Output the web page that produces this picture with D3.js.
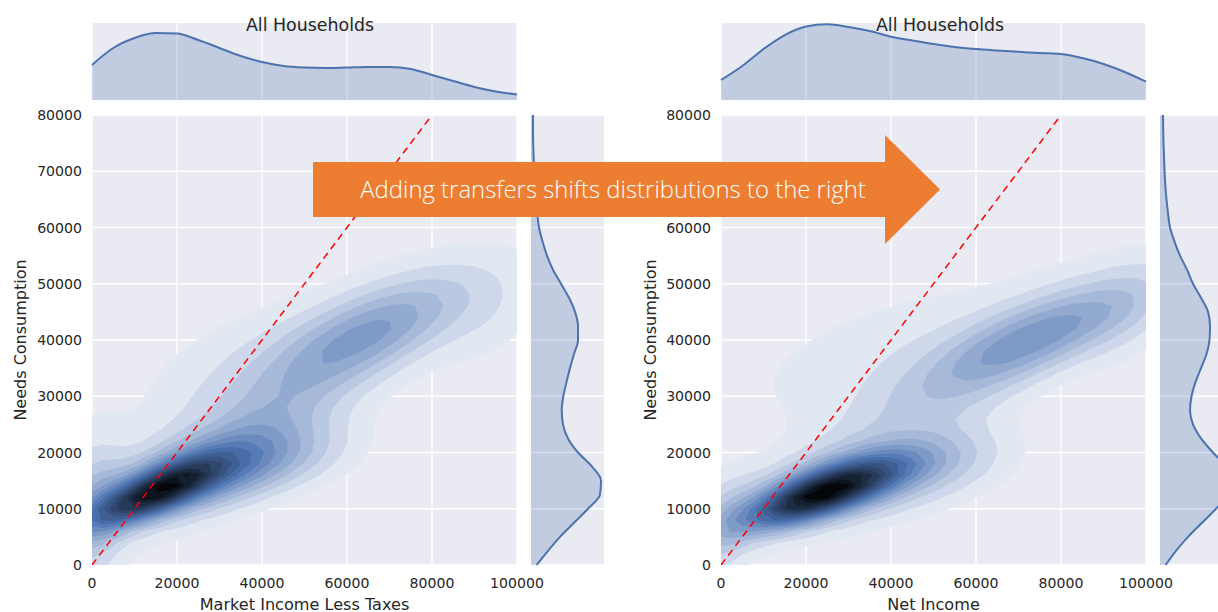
<!DOCTYPE html>
<html><head><meta charset="utf-8">
<script src="https://cdn.jsdelivr.net/npm/d3@7"></script>
<style>body{margin:0;background:#fff;overflow:hidden} svg{display:block}</style>
</head><body>
<svg id="c" width="1218" height="612"></svg>
<script>
// ---------- data ----------
const xTicks = [0, 20000, 40000, 60000, 80000, 100000];
const yTicks = [0, 10000, 20000, 30000, 40000, 50000, 60000, 70000, 80000];
const panelTitles = ["All Households", "All Households"];
const xAxisLabels = ["Market Income Less Taxes", "Net Income"];
const yAxisLabel = "Needs Consumption";
const arrowText = "Adding transfers shifts distributions to the right";

// marginal KDE of income (relative density) sampled at these incomes
const incomeGrid = [0,5000,10000,15000,20000,25000,30000,35000,40000,45000,50000,55000,60000,65000,70000,75000,80000,85000,90000,95000,100000];
const marketIncomeDensity = [0.455,0.675,0.805,0.870,0.864,0.779,0.675,0.571,0.494,0.442,0.422,0.416,0.422,0.429,0.429,0.403,0.325,0.247,0.169,0.110,0.071];
const netIncomeDensity    = [0.260,0.442,0.662,0.844,0.955,0.983,0.948,0.896,0.822,0.773,0.727,0.688,0.662,0.643,0.626,0.610,0.597,0.545,0.468,0.364,0.238];

// marginal KDE of needs consumption (relative density)
const consumptionGrid = [0,2500,5000,7500,10000,12500,15000,17500,20000,22500,25000,27500,30000,32500,35000,37500,40000,42500,45000,47500,50000,52500,55000,57500,60000,62500,65000,67500,70000,72500,75000,77500,80000];
const consumptionDensityLeft  = [0.078,0.233,0.397,0.589,0.781,0.945,0.959,0.836,0.644,0.507,0.438,0.421,0.442,0.486,0.534,0.589,0.644,0.644,0.603,0.521,0.411,0.301,0.219,0.158,0.110,0.086,0.068,0.055,0.044,0.036,0.030,0.027,0.027];
const consumptionDensityRight = [0.077,0.219,0.384,0.575,0.767,0.932,0.986,0.904,0.726,0.562,0.452,0.411,0.432,0.486,0.562,0.637,0.678,0.685,0.658,0.562,0.452,0.370,0.274,0.199,0.137,0.110,0.089,0.073,0.062,0.055,0.048,0.044,0.041];

// joint density, estimated as a sum of gaussian bumps (centre, spread, correlation, height)
const leftMuX   = [14000, 26000,     0, 66000, 42000, 30000, 48000, 95000, 40000];
const leftMuY   = [12500, 16000,  9000, 41500, 28000, 37000, 19000, 44000, 25000];
const leftSdX   = [10000, 16000,  5000, 16000, 30000, 20000, 13000, 10000, 12000];
const leftSdY   = [ 4000,  5000, 10000,  7000, 17000,  9000,  4500,  7000,  6000];
const leftRho   = [ 0.75,  0.55,  0.10,  0.70,  0.85,  0.60,  0.20,  0.40,  0.60];
const leftH     = [ 0.65,  0.38,  0.16,  0.26,  0.15,  0.06,  0.07,  0.07,  0.08];

const rightMuX  = [22000, 30000,     0, 76000, 50000, 33000, 55000, 97000, 40000];
const rightMuY  = [12000, 15000,  6000, 41000, 29000, 38000, 18000, 44000, 11000];
const rightSdX  = [12000, 16000,  5000, 17000, 30000, 25000, 13000,  9000, 16000];
const rightSdY  = [ 4000,  4500,  7000,  6500, 16000, 10000,  4500,  7000,  4500];
const rightRho  = [ 0.75,  0.60,  0.30,  0.75,  0.88,  0.65,  0.30,  0.40,  0.50];
const rightH    = [ 0.60,  0.34,  0.12,  0.26,  0.15,  0.075, 0.08,  0.07,  0.06];

const nLevels = 18;

// ---------- drawing ----------
const svg = d3.select("#c");
const BG = "#EAEAF2", TXT = "#262626", BLUE = "#4C72B0";
const FONT = "DejaVu Sans";

const panels = [
  {x0: 92, x1: 517, rm0: 531, rm1: 604, titleX: 310, ylabX: 20,
   mix: {mx: leftMuX, my: leftMuY, sx: leftSdX, sy: leftSdY, r: leftRho, h: leftH},
   topD: marketIncomeDensity, rightD: consumptionDensityLeft},
  {x0: 721, x1: 1146, rm0: 1160, rm1: 1233, titleX: 940, ylabX: 650,
   mix: {mx: rightMuX, my: rightMuY, sx: rightSdX, sy: rightSdY, r: rightRho, h: rightH},
   topD: netIncomeDensity, rightD: consumptionDensityRight}
];
const Y0 = 115, Y1 = 565, T0 = 23, T1 = 100;

function mixture(p) {
  return (x, y) => {
    let s = 0;
    for (let i = 0; i < p.mx.length; i++) {
      const dx = (x - p.mx[i]) / p.sx[i], dy = (y - p.my[i]) / p.sy[i], r = p.r[i];
      s += p.h[i] * Math.exp(-0.5 * (dx * dx - 2 * r * dx * dy + dy * dy) / (1 - r * r));
    }
    return s;
  };
}

const defs = svg.append("defs");

panels.forEach((P, pi) => {
  const x = d3.scaleLinear().domain([0, 100000]).range([P.x0, P.x1]);
  const y = d3.scaleLinear().domain([0, 80000]).range([Y1, Y0]);
  const g = svg.append("g");

  // ---- main axes ----
  g.append("rect").attr("x", P.x0).attr("y", Y0).attr("width", P.x1 - P.x0).attr("height", Y1 - Y0).attr("fill", BG);
  g.selectAll(".vg").data(xTicks).join("line").attr("x1", d => x(d)).attr("x2", d => x(d)).attr("y1", Y0).attr("y2", Y1)
    .attr("stroke", "#fff").attr("stroke-width", 1.3);
  g.selectAll(".hg").data(yTicks).join("line").attr("y1", d => y(d)).attr("y2", d => y(d)).attr("x1", P.x0).attr("x2", P.x1)
    .attr("stroke", "#fff").attr("stroke-width", 1.3);

  const cid = "clip" + pi;
  defs.append("clipPath").attr("id", cid).append("rect").attr("x", P.x0).attr("y", Y0).attr("width", P.x1 - P.x0).attr("height", Y1 - Y0);

  // density grid
  const gx0 = -10000, gy0 = -10000, stepX = 2500, stepY = 2000;
  const nx = Math.round(120000 / stepX) + 1, ny = Math.round(100000 / stepY) + 1;
  const f = mixture(P.mix);
  const vals = new Array(nx * ny);
  for (let j = 0; j < ny; j++) for (let i = 0; i < nx; i++) vals[j * nx + i] = f(gx0 + i * stepX, gy0 + j * stepY);
  const M = d3.max(vals);
  const thresholds = d3.range(1, nLevels).map(k => k * M / nLevels);
  const contours = d3.contours().size([nx, ny]).thresholds(thresholds)(vals);
  const proj = d3.geoTransform({
    point: function (cx, cy) { this.stream.point(x(gx0 + (cx - 0.5) * stepX), y(gy0 + (cy - 0.5) * stepY)); }
  });
  const path = d3.geoPath(proj);
  g.append("g").attr("clip-path", `url(#${cid})`).selectAll("path").data(contours).join("path")
    .attr("d", path)
    .attr("fill", (d, k) => d3.hsl(217.2, 0.397, 1 - (k + 1.5) / nLevels).formatHex())
    .attr("stroke", "none");

  // red y = x line
  g.append("g").attr("clip-path", `url(#${cid})`).append("line")
    .attr("x1", x(0)).attr("y1", y(0)).attr("x2", x(80000)).attr("y2", y(80000))
    .attr("stroke", "#ff0000").attr("stroke-width", 1.5).attr("stroke-dasharray", "7,5");

  // ticks
  g.selectAll(".xt").data(xTicks).join("text").attr("x", d => x(d)).attr("y", 588).attr("text-anchor", "middle")
    .attr("font-family", FONT).attr("font-size", 14.1).attr("fill", TXT).text(d => d);
  g.selectAll(".yt").data(yTicks).join("text").attr("x", P.x0 - 10).attr("y", d => y(d) + 5.2).attr("text-anchor", "end")
    .attr("font-family", FONT).attr("font-size", 14.1).attr("fill", TXT).text(d => d);
  g.append("text").attr("x", (P.x0 + P.x1) / 2).attr("y", 609.5).attr("text-anchor", "middle")
    .attr("font-family", FONT).attr("font-size", 16.1).attr("fill", TXT).text(xAxisLabels[pi]);
  g.append("text").attr("transform", `translate(${P.ylabX + 5.5},${(Y0 + Y1) / 2}) rotate(-90)`).attr("text-anchor", "middle")
    .attr("font-family", FONT).attr("font-size", 16).attr("fill", TXT).text(yAxisLabel);

  // ---- top marginal ----
  const ty = d3.scaleLinear().domain([0, 1]).range([T1, T0]);
  g.append("rect").attr("x", P.x0).attr("y", T0).attr("width", P.x1 - P.x0).attr("height", T1 - T0).attr("fill", BG);
  g.selectAll(".tg").data(xTicks).join("line").attr("x1", d => x(d)).attr("x2", d => x(d)).attr("y1", T0).attr("y2", T1)
    .attr("stroke", "#fff").attr("stroke-width", 1.3);
  const topPts = incomeGrid.map((v, i) => [v, P.topD[i]]);
  g.append("path").datum(topPts).attr("fill", BLUE).attr("fill-opacity", 0.25)
    .attr("d", d3.area().x(d => x(d[0])).y0(ty(0)).y1(d => ty(d[1])).curve(d3.curveMonotoneX));
  g.append("path").datum(topPts).attr("fill", "none").attr("stroke", BLUE).attr("stroke-width", 2)
    .attr("d", d3.line().x(d => x(d[0])).y(d => ty(d[1])).curve(d3.curveMonotoneX));

  // ---- right marginal ----
  const rx = d3.scaleLinear().domain([0, 1]).range([P.rm0, P.rm1]);
  g.append("rect").attr("x", P.rm0).attr("y", Y0).attr("width", P.rm1 - P.rm0).attr("height", Y1 - Y0).attr("fill", BG);
  g.selectAll(".rg").data(yTicks).join("line").attr("y1", d => y(d)).attr("y2", d => y(d)).attr("x1", P.rm0).attr("x2", P.rm1)
    .attr("stroke", "#fff").attr("stroke-width", 1.3);
  const rPts = consumptionGrid.map((v, i) => [v, P.rightD[i]]);
  g.append("path").datum(rPts).attr("fill", BLUE).attr("fill-opacity", 0.25)
    .attr("d", d3.area().y(d => y(d[0])).x0(rx(0)).x1(d => rx(d[1])).curve(d3.curveMonotoneY));
  g.append("path").datum(rPts).attr("fill", "none").attr("stroke", BLUE).attr("stroke-width", 2)
    .attr("d", d3.line().y(d => y(d[0])).x(d => rx(d[1])).curve(d3.curveMonotoneY));

  // title
  g.append("text").attr("x", P.titleX).attr("y", 31).attr("text-anchor", "middle")
    .attr("font-family", FONT).attr("font-size", 17.4).attr("fill", TXT).text(panelTitles[pi]);
});

// ---- annotation arrow ----
svg.append("path")
  .attr("d", "M313,162 L885,162 L885,135 L940,189.5 L885,244 L885,217 L313,217 Z")
  .attr("fill", "#ED7D31");
const at = svg.append("text").attr("x", 613).attr("y", 198).attr("text-anchor", "middle")
  .attr("font-family", "Open Sans").attr("font-weight", 300).attr("font-size", 20).attr("fill", "#fff").text(arrowText);
const w = at.node().getComputedTextLength();
at.attr("font-size", 20 * 506 / w);
</script>
</body></html>
